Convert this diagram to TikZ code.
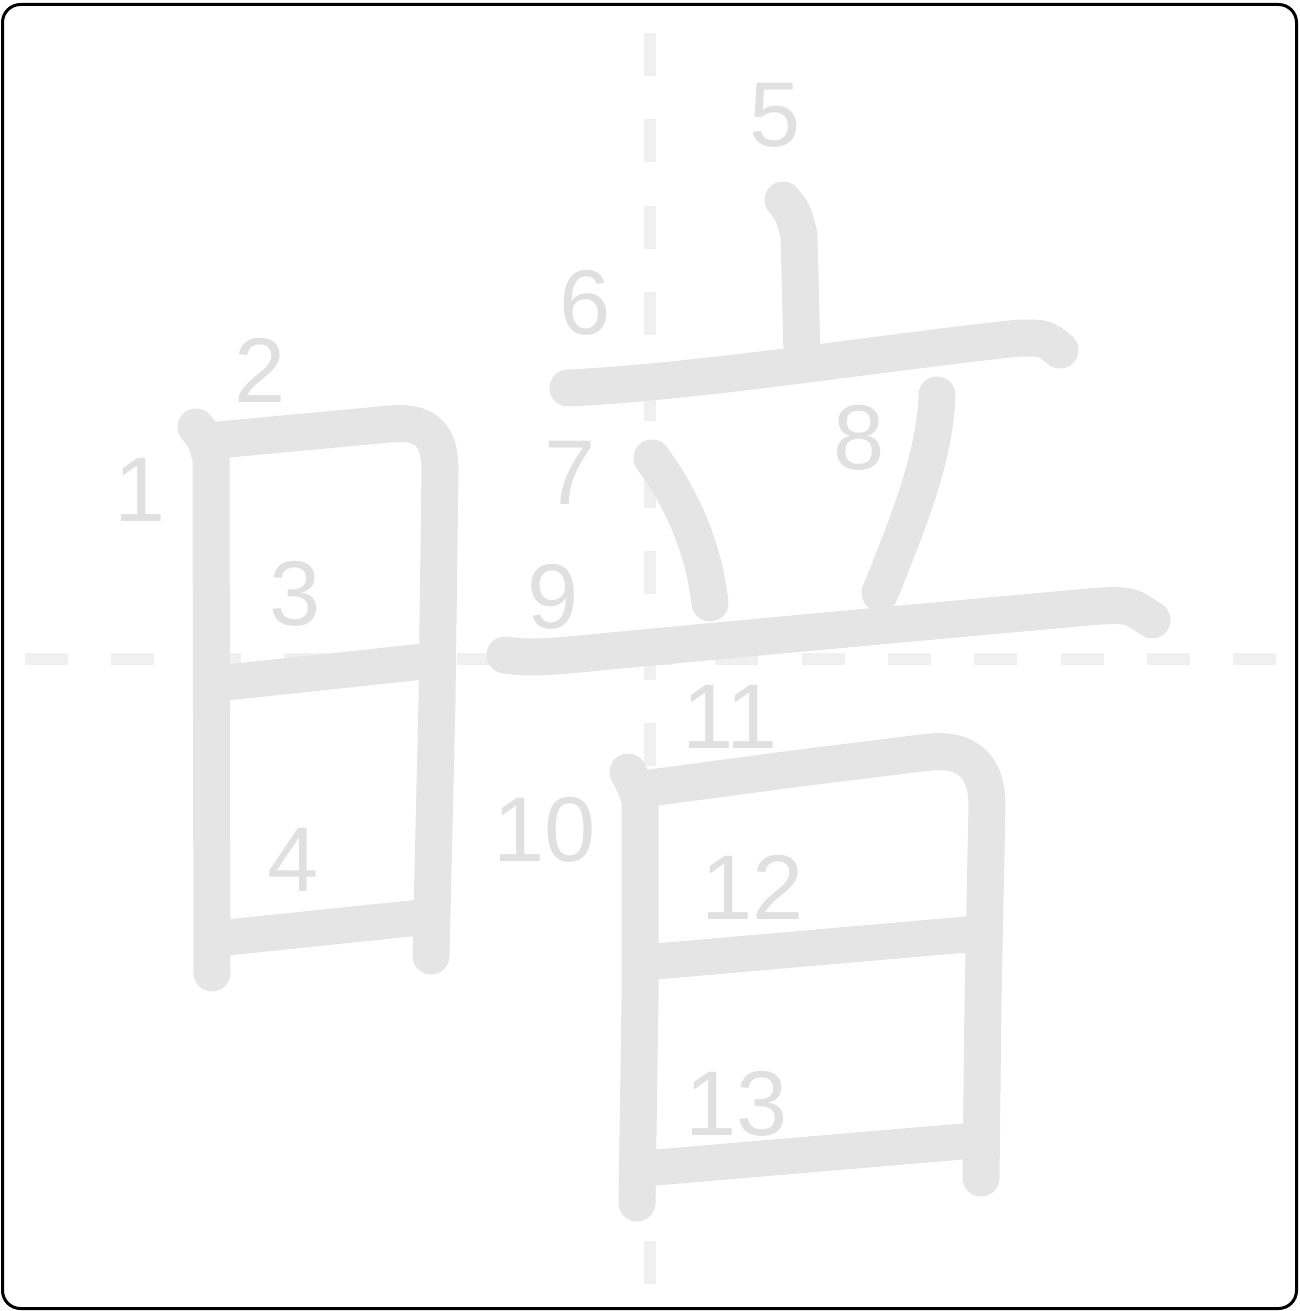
\documentclass[tikz,border=0pt]{standalone}
\usepackage{fontspec}
\setmainfont{Liberation Sans}
\usetikzlibrary{positioning}

\definecolor{inkgray}{HTML}{E5E5E5}
\definecolor{guidegray}{HTML}{F0F0F0}
\definecolor{numgray}{HTML}{E0E0E0}

\begin{document}
\begin{tikzpicture}[
  x=1pt, y=-1pt,
  kstroke/.style={draw=inkgray, line width=37pt, line cap=round, line join=round},
  bar/.style={draw=inkgray, line width=36pt, line cap=butt},
  guide/.style={draw=guidegray, line width=12pt, dash pattern=on 43pt off 43.3pt},
  num/.style={text=numgray, inner sep=0pt, font=\fontsize{92}{92}\selectfont}
]
\useasboundingbox (0,0) rectangle (1299,1311);

% frame and guide lines
\draw[line width=3pt, rounded corners=18pt] (2.5,4.5) rectangle (1296.5,1308.5);
\coordinate (vtop) at (650,33);
\coordinate (vbot) at (650,1284);
\coordinate (hleft) at (25,659);
\coordinate (hright) at (1276,659);
\draw[guide] (vtop) -- (vbot);
\draw[guide] (hleft) -- (hright);

% strokes of the left part
\draw[kstroke] (196,427) .. controls (205,438) .. (211,458) -- (212,973);
\draw[kstroke] (218,440) -- (390,424) .. controls (430,420) and (440,440) .. (440,470) -- (437,700) -- (431,956);
\draw[bar] (222,683) -- (428,661);
\draw[bar] (222,938) -- (425,917);

% strokes of the right part
\draw[kstroke] (783,200) .. controls (793,212) .. (799,235) -- (802,355);
\draw[kstroke] (568,388) .. controls (700,382) and (900,350) .. (1020,338) .. controls (1045,338) .. (1060,350);
\draw[kstroke] (652,458) .. controls (690,510) and (705,560) .. (710,603);
\draw[kstroke] (937,395) .. controls (935,460) and (905,530) .. (880,593);
\draw[kstroke] (505,655) .. controls (530,659) and (560,656) .. (600,652) .. controls (800,633) and (1000,615) .. (1100,606) .. controls (1130,605) .. (1152,620);
\draw[kstroke] (628,772) .. controls (635,785) .. (640,800) -- (640,1000) -- (637,1203);
\draw[kstroke] (650,788) -- (800,768) -- (930,752) .. controls (975,748) and (987,775) .. (987,805) -- (983,1000) -- (981,1178);
\draw[bar] (650,962) -- (972,934);
\draw[bar] (650,1168) -- (968,1141);

% stroke numbers
\foreach \i/\x/\y in {1/140/490, 2/260/370, 3/295/594, 4/293/860, 5/775/115,
                      6/585/303, 7/570/473, 8/859/438, 9/553/597, 10/545/830,
                      11/730/717, 12/753/887, 13/737/1104}
  \node[num] (n\i) at (\x,\y) {\i};
\end{tikzpicture}
\end{document}
